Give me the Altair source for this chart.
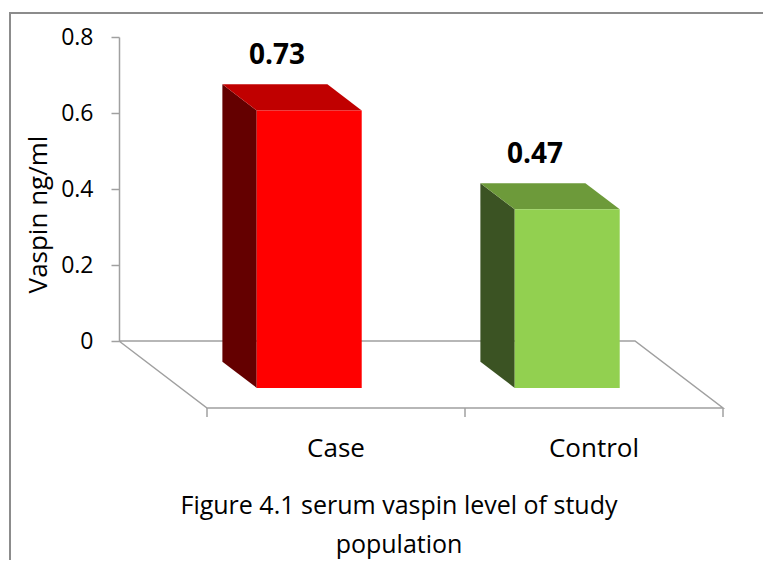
import altair as alt
import pandas as pd

# ---- data ----
categories = ["Case", "Control"]
values = [0.73, 0.47]
y_ticks = [0, 0.2, 0.4, 0.6, 0.8]
caption = ["Figure 4.1 serum vaspin level of study", "population"]
front_colors = ["#FF0000", "#92D050"]
side_colors = ["#640000", "#3B5323"]
top_colors = ["#C00000", "#6D9A3A"]

# ---- pseudo-3D geometry (style constants) ----
W, H = 516, 304
DX = 88 / 258     # x shift (category units) per unit depth
DY = 67 / 380     # y shift (value units) per unit depth
GAP, BW = 0.295, 0.407
D0, D1 = 0.31, 0.70
GRAY = "#A0A0A0"
FONT = "Open Sans"

front, side, top, lab, cat = [], [], [], [], []
for i, (c, v) in enumerate(zip(categories, values)):
    x0 = i + GAP
    front.append(dict(cat=c, x=x0 + D1 * DX, x2=x0 + D1 * DX + BW,
                      y=v - D1 * DY, y2=-D1 * DY, col=front_colors[i]))
    for d in (D0, D1):
        side.append(dict(cat=c, x=x0 + d * DX, y=v - d * DY, y2=-d * DY,
                         col=side_colors[i]))
        top.append(dict(cat=c, y=v - d * DY, x=x0 + d * DX,
                        x2=x0 + d * DX + BW, col=top_colors[i]))
    lab.append(dict(cat=c, v=v, x=x0 + BW / 2 + D0 * DX, y=v - D0 * DY))
    cat.append(dict(cat=c, x=i + 0.5 + DX, y=-DY))

n = len(categories)
floor_pts = [(0, 0), (n, 0), (n, 1), (0, 1), (0, 0)]
floor = pd.DataFrame([dict(o=k, x=px + d * DX, y=-d * DY)
                      for k, (px, d) in enumerate(floor_pts)])
ticks = pd.DataFrame([dict(x=b + DX, y=-DY, y2=-DY - 9 / 380)
                      for b in range(n + 1)])

xs = alt.Scale(domain=[0, n], nice=False, zero=False)
ys = alt.Scale(domain=[0, 0.8], nice=False, zero=False)
yaxis = alt.Axis(values=y_ticks, format="~g", title="Vaspin ng/ml", grid=False,
                 domainColor=GRAY, domainWidth=1.5, tickColor=GRAY,
                 tickWidth=1.5, tickSize=8, labelFont=FONT, labelFontSize=23,
                 labelColor="black", labelPadding=18, titleFont=FONT,
                 titleFontSize=26, titleFontWeight="normal", titleColor="black",
                 titleAngle=270, titleX=-81, titleY=177, titleAlign="center",
                 titleBaseline="middle")


def X(f="x"):
    return alt.X(f"{f}:Q", scale=xs, axis=None)


def Y(f="y"):
    return alt.Y(f"{f}:Q", scale=ys, axis=yaxis)


floor_l = alt.Chart(floor).mark_line(color=GRAY, strokeWidth=1.5).encode(
    x=X(), y=Y(), order="o:Q")
tick_l = alt.Chart(ticks).mark_rule(color=GRAY, strokeWidth=1.5).encode(
    x=X(), y=Y(), y2="y2:Q")
side_l = alt.Chart(pd.DataFrame(side)).mark_area(orient="vertical").encode(
    x=X(), y=Y(), y2="y2:Q", detail="cat:N",
    color=alt.Color("col:N", scale=None))
top_l = alt.Chart(pd.DataFrame(top)).mark_area(orient="horizontal").encode(
    y=Y(), x=X(), x2="x2:Q", detail="cat:N",
    color=alt.Color("col:N", scale=None))
front_l = alt.Chart(pd.DataFrame(front)).mark_rect().encode(
    x=X(), x2="x2:Q", y=Y(), y2="y2:Q",
    color=alt.Color("col:N", scale=None))
val_l = alt.Chart(pd.DataFrame(lab)).mark_text(
    font=FONT, fontSize=28, fontWeight="bold", color="black",
    baseline="middle", dy=-28, dx=2).encode(
    x=X(), y=Y(), text=alt.Text("v:Q", format=".2f"))
cat_l = alt.Chart(pd.DataFrame(cat)).mark_text(
    font=FONT, fontSize=26, color="black", baseline="middle", dy=41).encode(
    x=X(), y=Y(), text="cat:N")

one = pd.DataFrame({"k": [0]})
cap_l = alt.Chart(one).mark_text(
    font=FONT, fontSize=25, color="black", baseline="middle", align="center",
    lineHeight=39).encode(
    x=alt.value(280), y=alt.value(469), text=alt.value(caption))
border_left = alt.Chart(one).mark_rule(color="#8C8C8C", strokeWidth=2).encode(
    x=alt.value(-109), y=alt.value(-24), y2=alt.value(540))
border_top = alt.Chart(one).mark_rule(color="#8C8C8C", strokeWidth=2).encode(
    x=alt.value(-110), x2=alt.value(660), y=alt.value(-24))

chart = alt.layer(
    border_left, border_top, floor_l, tick_l, side_l, top_l, front_l,
    val_l, cat_l, cap_l
).properties(
    width=W, height=H,
    autosize=alt.AutoSizeParams(type="none"),
    padding={"left": 111, "top": 29, "right": 128, "bottom": 219},
).configure(font=FONT).configure_view(stroke="transparent", strokeWidth=0)

chart.save("out.html", embed_options={"renderer": "svg", "actions": False})
